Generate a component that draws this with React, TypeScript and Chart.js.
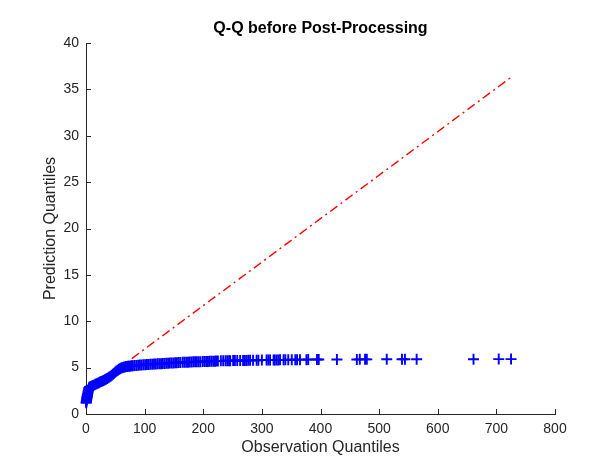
import React, { useEffect, useRef } from "react";
import { Chart, registerables } from "chart.js";

Chart.register(...registerables);

const chartTitle = "Q-Q before Post-Processing";
const xAxisTitle = "Observation Quantiles";
const yAxisTitle = "Prediction Quantiles";

const xMin = 0;
const xMax = 800;
const xStep = 100;
const yMin = 0;
const yMax = 40;
const yStep = 5;

// Observation quantiles (x) of the plotted "+" points
const obsQ = [
  0.3, 0.5, 0.7, 1.0, 1.2, 1.5, 1.8, 2.0, 2.3, 2.6, 3.0, 3.5, 4.0, 4.5, 5.0,
  6, 7, 8, 10, 12, 14, 16, 18, 20, 22, 24, 26, 28, 30, 32, 34, 36, 38, 40,
  42, 44, 46, 48, 50, 52, 54, 56, 58, 60, 62, 64, 66, 68, 70, 72, 74, 76, 78, 80,
  83, 86, 89, 92, 95, 98, 101, 104, 107, 110, 113, 116, 119, 122, 125, 128, 131,
  134, 137, 140, 143, 146, 149, 152, 155, 158, 161, 165, 168, 171, 174, 177, 180,
  183, 186, 189, 192, 195, 199, 202, 205, 208, 211, 214, 217, 220, 222,
  225, 230, 234, 238, 241, 244, 246, 251, 254, 258, 263, 268, 271,
  274, 277, 280, 285, 291, 294, 300, 308, 311, 314, 320, 322, 325, 328, 331, 337,
  340, 345, 351, 357, 360, 365, 376, 379, 394, 397, 428, 462, 467, 476, 479, 513,
  539, 544, 564, 661, 704, 725,
];

// Prediction quantiles (y) of the plotted "+" points
const predQ = [
  1.2, 1.3, 1.4, 1.5, 1.6, 1.7, 1.8, 1.9, 2.0, 2.1, 2.2, 2.35, 2.5, 2.65, 2.8,
  2.88, 2.92, 2.96, 3.02, 3.08, 3.14, 3.2, 3.26, 3.32, 3.38, 3.44, 3.5, 3.56, 3.62, 3.68, 3.75, 3.82, 3.9, 3.98,
  4.07, 4.17, 4.28, 4.4, 4.52, 4.63, 4.73, 4.82, 4.89, 4.95, 5.0, 5.04, 5.08, 5.11, 5.13, 5.15, 5.16, 5.18, 5.19, 5.2,
  5.22, 5.24, 5.26, 5.27, 5.29, 5.3, 5.32, 5.33, 5.34, 5.36, 5.37, 5.38, 5.39, 5.41, 5.42, 5.43, 5.44,
  5.45, 5.46, 5.48, 5.49, 5.5, 5.51, 5.52, 5.53, 5.54, 5.55, 5.57, 5.58, 5.59, 5.59, 5.6, 5.61,
  5.62, 5.62, 5.63, 5.64, 5.64, 5.65, 5.66, 5.66, 5.67, 5.68, 5.69, 5.7, 5.7, 5.71,
  5.72, 5.73, 5.73, 5.74, 5.74, 5.75, 5.75, 5.76, 5.76, 5.77, 5.77, 5.78, 5.78,
  5.78, 5.79, 5.79, 5.8, 5.8, 5.8, 5.81, 5.81, 5.82, 5.82, 5.82, 5.83, 5.83, 5.83, 5.84, 5.84,
  5.84, 5.85, 5.85, 5.85, 5.86, 5.86, 5.86, 5.87, 5.87, 5.87, 5.88, 5.88, 5.89, 5.89, 5.89, 5.9,
  5.9, 5.9, 5.91, 5.91, 5.92, 5.92,
];

// Reference line (quartile fit, extended to the data range)
const refLineX = [0, 725];
const refLineY = [2.31, 36.3];

const FONT = "'Liberation Sans', Arial, Helvetica, sans-serif";
const INK = "#262626";

const inwardTicks = {
  id: "inwardTicks",
  afterDraw(chart: any) {
    const { ctx, chartArea, scales } = chart;
    const len = 5;
    ctx.save();
    ctx.strokeStyle = INK;
    ctx.lineWidth = 1;
    ctx.beginPath();
    scales.x.ticks.forEach((t: any) => {
      const px = Math.round(scales.x.getPixelForValue(t.value)) + 0.5;
      ctx.moveTo(px, chartArea.bottom);
      ctx.lineTo(px, chartArea.bottom - len);
    });
    scales.y.ticks.forEach((t: any) => {
      const py = Math.round(scales.y.getPixelForValue(t.value)) + 0.5;
      ctx.moveTo(chartArea.left, py);
      ctx.lineTo(chartArea.left + len, py);
    });
    ctx.stroke();
    // title centred over the axes
    ctx.fillStyle = "#000000";
    ctx.font = `bold 16px ${FONT}`;
    ctx.textAlign = "center";
    ctx.textBaseline = "middle";
    ctx.fillText(chartTitle, (chartArea.left + chartArea.right) / 2, 29);
    ctx.restore();
  },
};

const whiteBg = {
  id: "whiteBg",
  beforeDraw(chart: any) {
    const { ctx, width, height } = chart;
    ctx.save();
    ctx.fillStyle = "#ffffff";
    ctx.fillRect(0, 0, width, height);
    ctx.restore();
  },
};

export default function App() {
  const canvasRef = useRef<HTMLCanvasElement | null>(null);

  useEffect(() => {
    document.body.style.margin = "0";
    const canvas = canvasRef.current;
    if (!canvas) return;

    const points = obsQ.map((x, i) => ({ x, y: predQ[i] }));
    const linePts = refLineX.map((x, i) => ({ x, y: refLineY[i] }));

    const chart = new Chart(canvas, {
      type: "scatter",
      data: {
        datasets: [
          {
            label: "data",
            data: points,
            pointStyle: "cross",
            pointRadius: 5.5,
            pointHoverRadius: 5.5,
            borderColor: "rgb(0,0,255)",
            backgroundColor: "rgb(0,0,255)",
            pointBorderWidth: 1.9,
            showLine: false,
            clip: false,
            order: 1,
          } as any,
          {
            label: "fit",
            type: "line",
            data: linePts,
            borderColor: "rgb(255,0,0)",
            borderWidth: 1.4,
            borderDash: [9, 4, 2, 4],
            pointRadius: 0,
            fill: false,
            order: 2,
          } as any,
        ],
      },
      options: {
        animation: false,
        responsive: false,
        maintainAspectRatio: false,
        events: [],
        layout: { padding: { left: 0, top: 43, right: 52, bottom: 0 } },
        plugins: {
          legend: { display: false },
          tooltip: { enabled: false },
          title: { display: false },
        },
        scales: {
          x: {
            type: "linear",
            min: xMin,
            max: xMax,
            grid: { display: false, drawTicks: false, tickLength: 0 },
            border: { display: true, color: INK, width: 1 },
            ticks: {
              stepSize: xStep,
              color: INK,
              padding: 7,
              maxRotation: 0,
              font: { family: FONT, size: 14 },
            },
            title: {
              display: true,
              text: xAxisTitle,
              color: INK,
              font: { family: FONT, size: 16, lineHeight: 1.2 },
              padding: { top: 0, bottom: 0 },
            },
            afterFit(scale: any) {
              scale.height = 43;
            },
          },
          y: {
            type: "linear",
            min: yMin,
            max: yMax,
            grid: { display: false, drawTicks: false, tickLength: 0 },
            border: { display: true, color: INK, width: 1 },
            ticks: {
              stepSize: yStep,
              color: INK,
              padding: 7,
              font: { family: FONT, size: 14 },
            },
            title: {
              display: true,
              text: yAxisTitle,
              color: INK,
              font: { family: FONT, size: 16, lineHeight: 1.2 },
              padding: { top: 41, bottom: 0 },
            },
            afterFit(scale: any) {
              scale.width = 86;
            },
          },
        },
      },
      plugins: [whiteBg, inwardTicks],
    } as any);

    return () => chart.destroy();
  }, []);

  return (
    <div style={{ width: 607, height: 457, position: "relative" }}>
      <canvas ref={canvasRef} width={607} height={457} style={{ width: 607, height: 457, display: "block" }} />
    </div>
  );
}
